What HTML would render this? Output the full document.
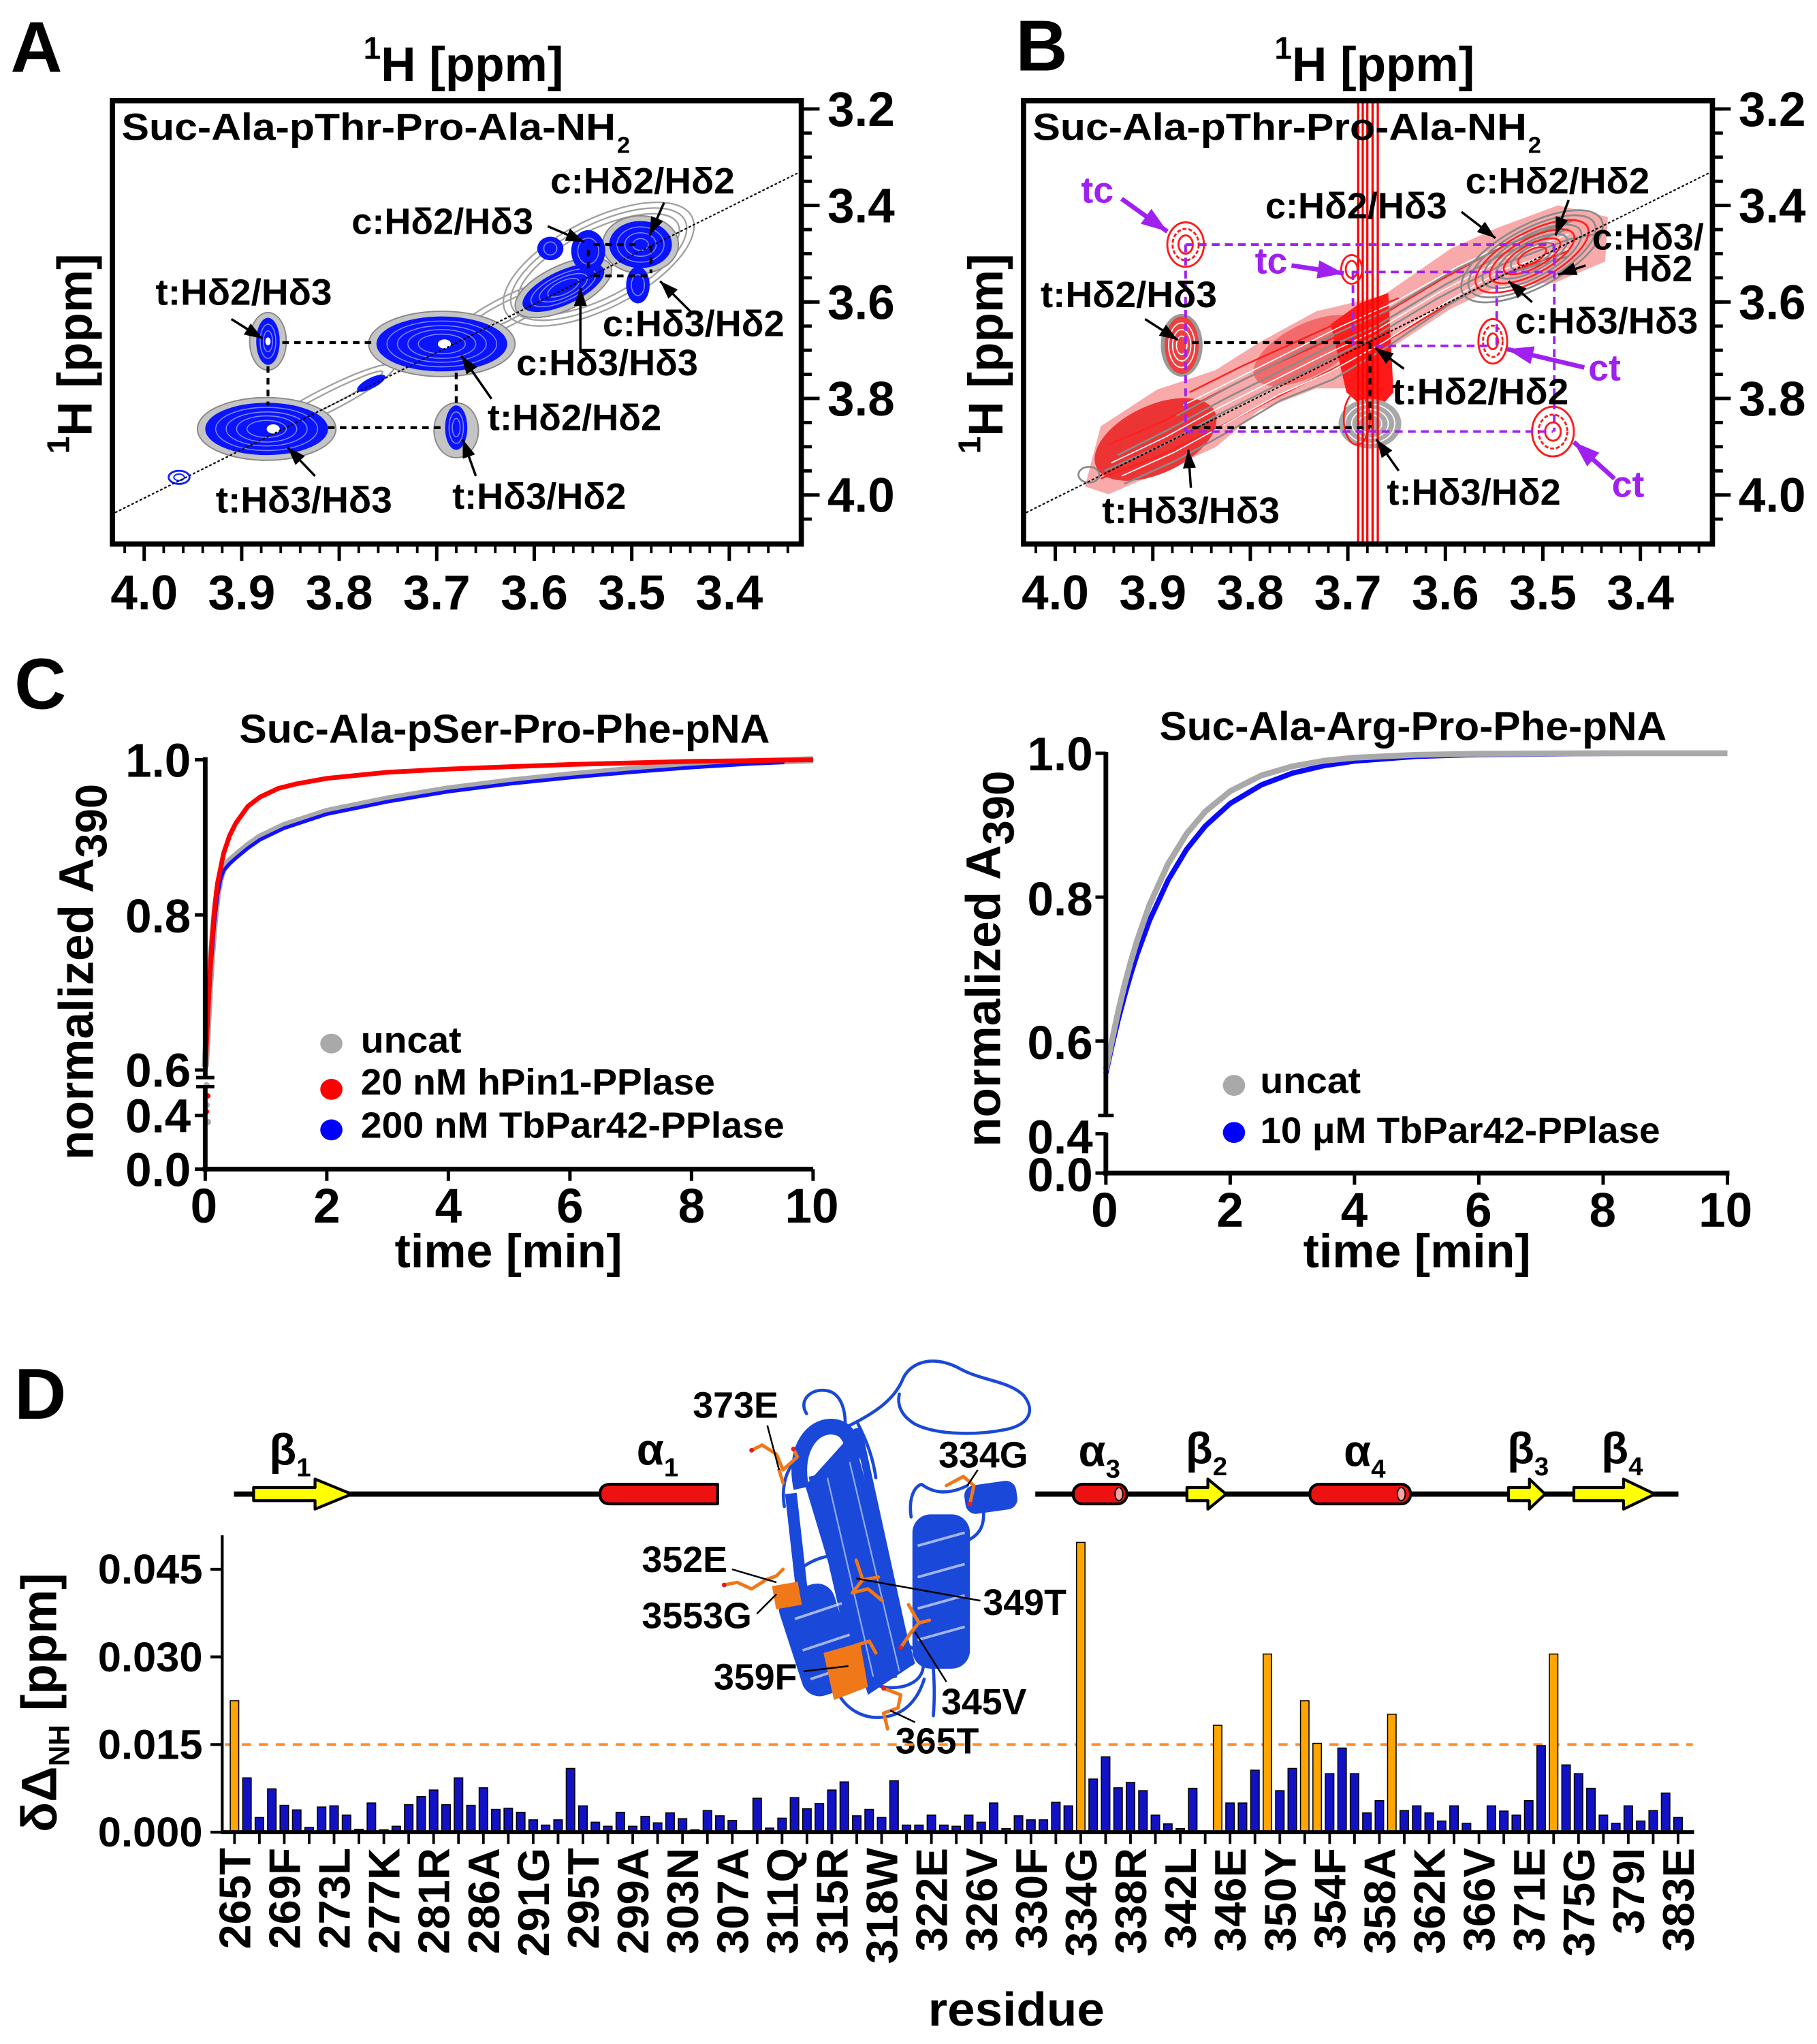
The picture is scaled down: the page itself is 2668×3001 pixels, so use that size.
<!DOCTYPE html>
<html><head><meta charset="utf-8"><title>Figure</title>
<style>
html,body{margin:0;padding:0;background:#fff;width:2668px;height:3001px;overflow:hidden}
svg{display:block}
text{font-family:"Liberation Sans",Arial,"DejaVu Sans",sans-serif;font-weight:bold;fill:#000}
</style></head><body>
<svg xmlns="http://www.w3.org/2000/svg" width="2668" height="3001" viewBox="0 0 1390 1563" preserveAspectRatio="none">
<defs>
<marker id="ak" markerUnits="userSpaceOnUse" markerWidth="14" markerHeight="10" refX="14" refY="5" orient="auto"><path d="M0,0 L14,5 L0,10 Z" fill="#000"/></marker>
<marker id="ap" markerUnits="userSpaceOnUse" markerWidth="20" markerHeight="14" refX="20" refY="7" orient="auto"><path d="M0,0 L20,7 L0,14 Z" fill="#a020f0"/></marker>
</defs>
<rect width="1390" height="1563" fill="#fff"/>

<!-- ================= PANEL A ================= -->
<text x="8" y="55" font-size="55">A</text>
<text x="278" y="62" font-size="37"><tspan font-size="24" dy="-17">1</tspan><tspan dy="17">H [ppm]</tspan></text>
<text transform="translate(70,347) rotate(-90)" font-size="37"><tspan font-size="24" dy="-17">1</tspan><tspan dy="17">H [ppm]</tspan></text>

<g fill="none" stroke="#a0a0a0" stroke-width="1.2">
 <ellipse cx="250" cy="306" rx="58" ry="9" transform="rotate(-27 250 306)"/>
 <ellipse cx="250" cy="306" rx="48" ry="5" transform="rotate(-27 250 306)"/>
 <ellipse cx="388" cy="238" rx="48" ry="11" transform="rotate(-27 388 238)"/>
 <ellipse cx="388" cy="238" rx="38" ry="7" transform="rotate(-27 388 238)"/>
 <ellipse cx="458" cy="202" rx="80" ry="34" transform="rotate(-27 458 202)"/>
 <ellipse cx="458" cy="202" rx="74" ry="30" transform="rotate(-27 458 202)"/>
 <ellipse cx="458" cy="202" rx="68" ry="26" transform="rotate(-27 458 202)"/>
</g>
<ellipse cx="137" cy="365" rx="8" ry="5" fill="none" stroke="#1020ff" stroke-width="1.5"/>
<ellipse cx="137" cy="365" rx="4" ry="2.5" fill="none" stroke="#1020ff" stroke-width="1"/>
<ellipse cx="284" cy="293" rx="12" ry="4" fill="#0a14ff" transform="rotate(-27 284 293)"/>

<g transform="translate(204,328)">
 <ellipse rx="53" ry="24" fill="#c4c4c4" stroke="#888" stroke-width="1"/>
 <ellipse rx="47" ry="20" fill="#0a14ff"/>
 <g fill="none" stroke="#7f86ff" stroke-width="0.8"><ellipse rx="39" ry="16.5"/><ellipse rx="31" ry="13"/><ellipse rx="23" ry="10"/><ellipse rx="15" ry="6.5"/></g>
 <ellipse cx="5" rx="5" ry="3.5" fill="#fff"/>
</g>
<g transform="translate(338,263)">
 <ellipse rx="56" ry="25" fill="#c4c4c4" stroke="#888" stroke-width="1"/>
 <ellipse rx="50" ry="21" fill="#0a14ff"/>
 <g fill="none" stroke="#7f86ff" stroke-width="0.8"><ellipse rx="42" ry="17.5"/><ellipse rx="34" ry="14"/><ellipse rx="26" ry="11"/><ellipse rx="18" ry="7.5"/></g>
 <ellipse cx="2" rx="5" ry="3.5" fill="#fff"/>
</g>
<g transform="translate(205,261)">
 <ellipse rx="14" ry="22" fill="#c4c4c4" stroke="#888" stroke-width="1"/>
 <ellipse rx="9" ry="18" fill="#0a14ff"/>
 <g fill="none" stroke="#7f86ff" stroke-width="0.8"><ellipse rx="6" ry="13"/><ellipse rx="3.5" ry="8"/></g>
 <ellipse rx="2" ry="3" fill="#fff"/>
</g>
<g transform="translate(349,327)">
 <ellipse cy="2" rx="17" ry="21" fill="#c4c4c4" stroke="#888" stroke-width="1"/>
 <ellipse rx="8.5" ry="17" fill="#0a14ff"/>
 <g fill="none" stroke="#7f86ff" stroke-width="0.8"><ellipse rx="5.5" ry="12"/><ellipse rx="3" ry="7"/></g>
</g>
<g transform="translate(431,220) rotate(-25)">
 <ellipse rx="40" ry="17" fill="#c4c4c4" stroke="#888" stroke-width="1"/>
 <ellipse rx="34" ry="13" fill="#0a14ff"/>
 <g fill="none" stroke="#7f86ff" stroke-width="0.8"><ellipse rx="27" ry="10"/><ellipse rx="20" ry="7.5"/><ellipse rx="13" ry="5"/></g>
</g>
<g transform="translate(490,187)">
 <ellipse rx="29" ry="22" fill="#c4c4c4" stroke="#888" stroke-width="1"/>
 <ellipse rx="24" ry="18" fill="#0a14ff"/>
 <g fill="none" stroke="#7f86ff" stroke-width="0.8"><ellipse rx="18" ry="13.5"/><ellipse rx="12" ry="9"/><ellipse rx="6" ry="4.5"/></g>
</g>
<ellipse cx="450" cy="192" rx="13" ry="16" fill="#0a14ff"/>
<ellipse cx="450" cy="192" rx="8" ry="10" fill="none" stroke="#7f86ff" stroke-width="0.8"/>
<ellipse cx="421" cy="190" rx="10" ry="9" fill="#0a14ff"/>
<ellipse cx="421" cy="190" rx="5" ry="5" fill="none" stroke="#7f86ff" stroke-width="0.8"/>
<ellipse cx="488" cy="218" rx="9" ry="14" fill="#0a14ff"/>
<ellipse cx="488" cy="218" rx="5" ry="8" fill="none" stroke="#7f86ff" stroke-width="0.8"/>

<line x1="88" y1="392" x2="613" y2="131" stroke="#000" stroke-width="1.1" stroke-dasharray="2 1.5"/>
<g stroke="#000" stroke-width="2.2" stroke-dasharray="5 4" fill="none">
 <path d="M216 262 H288"/><path d="M251 327 H340"/><path d="M205 280 V310"/><path d="M349 285 V311"/>
 <path d="M454 187 H490"/><path d="M454 211 H498"/><path d="M450 191 V209"/><path d="M498 188 V209"/>
</g>
<g stroke="#000" stroke-width="1.8" marker-end="url(#ak)">
 <line x1="508" y1="155" x2="497" y2="180"/>
 <line x1="419" y1="173" x2="447" y2="185"/>
 <line x1="177" y1="244" x2="201" y2="259"/>
 <line x1="530" y1="240" x2="505" y2="215"/>
 <line x1="444" y1="270" x2="444" y2="220"/>
 <line x1="376" y1="305" x2="353" y2="272"/>
 <line x1="241" y1="364" x2="220" y2="342"/>
 <line x1="364" y1="364" x2="354" y2="336"/>
</g>
<g font-size="28">
 <text x="421" y="148" textLength="141" lengthAdjust="spacingAndGlyphs">c:Hδ2/Hδ2</text>
 <text x="269" y="179" textLength="139" lengthAdjust="spacingAndGlyphs">c:Hδ2/Hδ3</text>
 <text x="119" y="233" textLength="135" lengthAdjust="spacingAndGlyphs">t:Hδ2/Hδ3</text>
 <text x="461" y="257" textLength="139" lengthAdjust="spacingAndGlyphs">c:Hδ3/Hδ2</text>
 <text x="395" y="287" textLength="139" lengthAdjust="spacingAndGlyphs">c:Hδ3/Hδ3</text>
 <text x="373" y="329" textLength="133" lengthAdjust="spacingAndGlyphs">t:Hδ2/Hδ2</text>
 <text x="165" y="392" textLength="135" lengthAdjust="spacingAndGlyphs">t:Hδ3/Hδ3</text>
 <text x="346" y="389" textLength="133" lengthAdjust="spacingAndGlyphs">t:Hδ3/Hδ2</text>
</g>
<text x="93" y="107" font-size="29" textLength="378" lengthAdjust="spacingAndGlyphs">Suc-Ala-pThr-Pro-Ala-NH</text>
<text x="472" y="117" font-size="18">2</text>
<rect x="86" y="77" width="527" height="339" fill="none" stroke="#000" stroke-width="4"/>
<line x1="617" y1="82.05" x2="617" y2="399" stroke="#000" stroke-width="8" stroke-dasharray="2.5 15.95"/>
<path d="M613 83.3h14M613 157.1h14M613 230.9h14M613 304.7h14M613 378.5h14" stroke="#000" stroke-width="2.6"/>
<g font-size="37"><text x="633" y="96.3">3.2</text><text x="633" y="170.1">3.4</text><text x="633" y="243.9">3.6</text><text x="633" y="317.7">3.8</text><text x="633" y="391.5">4.0</text></g>
<line x1="94.4" y1="419.5" x2="604" y2="419.5" stroke="#000" stroke-width="7" stroke-dasharray="2 12.92"/>
<path d="M110.3 416v13M184.9 416v13M259.5 416v13M334.1 416v13M408.7 416v13M483.3 416v13M557.9 416v13" stroke="#000" stroke-width="2.6"/>
<g font-size="37" text-anchor="middle"><text x="110.3" y="466">4.0</text><text x="184.9" y="466">3.9</text><text x="259.5" y="466">3.8</text><text x="334.1" y="466">3.7</text><text x="408.7" y="466">3.6</text><text x="483.3" y="466">3.5</text><text x="557.9" y="466">3.4</text></g>

<!-- ================= PANEL B ================= -->
<text x="777" y="54" font-size="55">B</text>
<text x="975" y="62" font-size="37"><tspan font-size="24" dy="-17">1</tspan><tspan dy="17">H [ppm]</tspan></text>
<text transform="translate(767,347) rotate(-90)" font-size="37"><tspan font-size="24" dy="-17">1</tspan><tspan dy="17">H [ppm]</tspan></text>

<polygon points="830,372 848,378 885,362 930,342 963,314 1007,297 1030,297 1058,270 1110,236 1146,219 1190,216 1228,200 1230,166 1192,157 1146,174 1110,190 1058,226 1007,238 963,262 930,283 885,298 842,326" fill="#f8aaaa"/>
<ellipse cx="884" cy="336" rx="50" ry="26" fill="#ec3434" transform="rotate(-25 884 336)"/>
<ellipse cx="1000" cy="268" rx="45" ry="20" fill="#f26a6a" transform="rotate(-27 1000 268)"/>
<path d="M1018 248 L1040 232 L1062 224 L1066 300 L1050 318 L1030 300 Z" fill="#ff1a1a"/>
<g fill="none" stroke="#ff2020" stroke-width="1.3">
 <polyline points="842,366 888,348 930,328 972,306 1012,286 1052,266 1102,236 1150,210 1200,192"/>
 <polyline points="848,340 890,322 932,300 972,280 1012,262 1052,244 1102,214 1150,188 1200,170"/>
 <polyline points="910,300 950,280 990,262 1030,244 1070,228"/>
</g>
<g fill="none" stroke="#8a8a8a" stroke-width="1.4">
 <polyline points="845,360 890,340 930,318 970,298 1010,278 1050,258 1100,228 1150,202 1200,183 1225,178"/>
 <polyline points="855,348 895,328 935,306 975,286 1015,266 1055,248 1105,218 1150,194 1200,175"/>
 <polyline points="860,370 900,352 940,330 980,306 1020,290 1060,266 1110,232 1150,210 1200,196"/>
 <polyline points="900,318 940,296 980,276 1020,256 1060,238 1110,208 1160,184 1205,168"/>
</g>
<g fill="none" stroke="#fff" stroke-width="0.9">
 <polyline points="850,354 892,334 932,312 972,292 1012,272 1052,253 1102,223 1150,198 1200,179"/>
 <polyline points="858,364 898,346 938,324 978,302 1018,284 1058,262 1108,230 1150,206 1200,190"/>
 <polyline points="905,310 945,290 985,270 1025,250 1065,232 1115,204 1165,180"/>
</g>
<g transform="translate(1172,196) rotate(-28)" fill="none" stroke-width="1.4">
 <ellipse rx="60" ry="24" stroke="#8a8a8a"/><ellipse rx="54" ry="21" stroke="#8a8a8a"/><ellipse rx="48" ry="18.5" stroke="#ff2020"/>
 <ellipse rx="42" ry="16" stroke="#8a8a8a"/><ellipse rx="36" ry="13.5" stroke="#ff2020"/><ellipse rx="30" ry="11" stroke="#8a8a8a"/>
 <ellipse rx="24" ry="9" stroke="#ff2020"/><ellipse rx="18" ry="7" stroke="#8a8a8a"/><ellipse rx="12" ry="5" stroke="#ff2020"/>
</g>
<g transform="translate(904,264)">
 <ellipse rx="16" ry="24" fill="#9a9a9a"/>
 <ellipse rx="13" ry="22" fill="#ef4040"/>
 <g fill="none" stroke="#fff" stroke-width="0.9"><ellipse rx="10" ry="17"/><ellipse rx="7" ry="12"/><ellipse rx="4" ry="7"/></g>
</g>
<g transform="translate(1048,324)">
 <ellipse rx="24" ry="19" fill="#a8a8a8"/>
 <g fill="none" stroke="#fff" stroke-width="0.9"><ellipse rx="19" ry="15"/><ellipse rx="14" ry="11"/><ellipse rx="9" ry="7"/></g>
 <ellipse cx="-10" cy="-4" rx="10" ry="20" fill="none" stroke="#ff2020" stroke-width="1.4"/>
</g>
<ellipse cx="833" cy="363" rx="8" ry="6" fill="none" stroke="#888" stroke-width="1.4"/>
<g stroke="#ff0000" stroke-width="1.7" fill="none">
 <path d="M1039 77 V418"/><path d="M1042.5 77 V418"/><path d="M1046 77 V418"/><path d="M1050 77 V418"/><path d="M1054 77 V418"/>
</g>
<g fill="none" stroke="#ff1a1a" stroke-width="1.5">
 <ellipse cx="907" cy="187" rx="14" ry="17"/><ellipse cx="907" cy="187" rx="10" ry="12" stroke-dasharray="3 1.5"/><ellipse cx="907" cy="187" rx="5.5" ry="7"/>
 <ellipse cx="1034" cy="206" rx="8" ry="11"/><ellipse cx="1034" cy="206" rx="4.5" ry="6.5"/>
 <ellipse cx="1142" cy="261" rx="11" ry="17"/><ellipse cx="1142" cy="261" rx="7.5" ry="12" stroke-dasharray="3 1.5"/><ellipse cx="1142" cy="261" rx="4" ry="6"/>
 <ellipse cx="1188" cy="330" rx="16" ry="19"/><ellipse cx="1188" cy="330" rx="11" ry="13" stroke-dasharray="3 1.5"/><ellipse cx="1188" cy="330" rx="6" ry="7"/>
</g>
<line x1="785" y1="392" x2="1310" y2="131" stroke="#000" stroke-width="1.1" stroke-dasharray="2 1.5"/>
<g stroke="#a020f0" stroke-width="2" stroke-dasharray="6 4" fill="none">
 <path d="M907 187 H1189"/><path d="M1034 208 H1189"/><path d="M1052 264.5 H1142"/><path d="M907 330 H1188"/>
 <path d="M907 187 V330"/><path d="M1035 208 V264"/><path d="M1145 208 V264"/><path d="M1189 187 V330"/>
</g>
<g stroke="#000" stroke-width="2.2" stroke-dasharray="5 4" fill="none">
 <path d="M912 262 H1048"/><path d="M912 327 H1048"/><path d="M1048 262 V327"/>
</g>
<g stroke="#000" stroke-width="1.8" marker-end="url(#ak)">
 <line x1="1200" y1="153" x2="1190" y2="180"/>
 <line x1="1118" y1="162" x2="1144" y2="182"/>
 <line x1="1213" y1="203" x2="1192" y2="210"/>
 <line x1="1172" y1="231" x2="1154" y2="215"/>
 <line x1="876" y1="244" x2="901" y2="260"/>
 <line x1="1074" y1="282" x2="1052" y2="266"/>
 <line x1="1070" y1="360" x2="1053" y2="336"/>
 <line x1="911" y1="373" x2="909" y2="344"/>
</g>
<g stroke="#a020f0" stroke-width="3.5" marker-end="url(#ap)">
 <line x1="858" y1="152" x2="893" y2="177"/>
 <line x1="988" y1="203" x2="1028" y2="209"/>
 <line x1="1212" y1="281" x2="1153" y2="267"/>
 <line x1="1235" y1="366" x2="1204" y2="338"/>
</g>
<g font-size="28">
 <text x="827" y="155" style="fill:#a020f0">tc</text>
 <text x="960" y="209" style="fill:#a020f0">tc</text>
 <text x="1215" y="291" style="fill:#a020f0">ct</text>
 <text x="1233" y="380" style="fill:#a020f0">ct</text>
</g>
<g font-size="28">
 <text x="1121" y="148" textLength="141" lengthAdjust="spacingAndGlyphs">c:Hδ2/Hδ2</text>
 <text x="968" y="167" textLength="139" lengthAdjust="spacingAndGlyphs">c:Hδ2/Hδ3</text>
 <text x="1218" y="191">c:Hδ3/</text>
 <text x="1242" y="215">Hδ2</text>
 <text x="796" y="235" textLength="135" lengthAdjust="spacingAndGlyphs">t:Hδ2/Hδ3</text>
 <text x="1159" y="255" textLength="140" lengthAdjust="spacingAndGlyphs">c:Hδ3/Hδ3</text>
 <text x="1065" y="309" textLength="135" lengthAdjust="spacingAndGlyphs">t:Hδ2/Hδ2</text>
 <text x="1061" y="386" textLength="133" lengthAdjust="spacingAndGlyphs">t:Hδ3/Hδ2</text>
 <text x="843" y="400" textLength="136" lengthAdjust="spacingAndGlyphs">t:Hδ3/Hδ3</text>
</g>
<text x="790" y="107" font-size="29" textLength="378" lengthAdjust="spacingAndGlyphs">Suc-Ala-pThr-Pro-Ala-NH</text>
<text x="1169" y="117" font-size="18">2</text>
<rect x="783" y="77" width="527" height="339" fill="none" stroke="#000" stroke-width="4"/>
<line x1="1314" y1="82.05" x2="1314" y2="399" stroke="#000" stroke-width="8" stroke-dasharray="2.5 15.95"/>
<path d="M1310 83.3h14M1310 157.1h14M1310 230.9h14M1310 304.7h14M1310 378.5h14" stroke="#000" stroke-width="2.6"/>
<g font-size="37"><text x="1330" y="96.3">3.2</text><text x="1330" y="170.1">3.4</text><text x="1330" y="243.9">3.6</text><text x="1330" y="317.7">3.8</text><text x="1330" y="391.5">4.0</text></g>
<line x1="791.4" y1="419.5" x2="1301" y2="419.5" stroke="#000" stroke-width="7" stroke-dasharray="2 12.92"/>
<path d="M807.3 416v13M881.9 416v13M956.5 416v13M1031.1 416v13M1105.7 416v13M1180.3 416v13M1254.9 416v13" stroke="#000" stroke-width="2.6"/>
<g font-size="37" text-anchor="middle"><text x="807.3" y="466">4.0</text><text x="881.9" y="466">3.9</text><text x="956.5" y="466">3.8</text><text x="1031.1" y="466">3.7</text><text x="1105.7" y="466">3.6</text><text x="1180.3" y="466">3.5</text><text x="1254.9" y="466">3.4</text></g>

<!-- ================= PANEL C (left) ================= -->
<text x="11" y="542" font-size="55">C</text>
<text x="183" y="568" font-size="31" textLength="406" lengthAdjust="spacingAndGlyphs">Suc-Ala-pSer-Pro-Phe-pNA</text>
<text transform="translate(71,887) rotate(-90)" font-size="37">normalized A<tspan font-size="34" dy="10.5">390</tspan></text>
<polyline fill="none" stroke="#a9a9a9" stroke-width="5.5" stroke-linejoin="round" points="157,816 158.4,792.5 159.8,762.8 161.65,733.2 164,703.5 166.3,682.8 168.6,670.9 171,663.8 175.6,658.5 180.3,654.3 189.6,646.6 198.9,640.1 217.5,631.2 250,620.5 296.5,611 343,603.3 389.5,597.4 436,592.6 482.5,588.5 529,584.9 575.5,582.5 622,581"/>
<polyline fill="none" stroke="#1010ff" stroke-width="2.8" stroke-linejoin="round" points="157,818.2 158.4,794.5 159.8,764.8 161.65,735.2 164,705.5 166.3,684.8 168.6,672.9 171,665.8 175.6,660.5 180.3,656.3 189.6,648.6 198.9,642.1 217.5,633.2 250,622.5 296.5,613 343,605.3 389.5,599.4 436,594.6 482.5,590.5 529,586.9 575.5,584 600,583"/>
<polyline fill="none" stroke="#ff0000" stroke-width="3.6" stroke-linejoin="round" points="157,818.2 158.4,788.6 159.8,758.9 161.65,726.3 164,696.6 166.3,675.9 171,652.8 175.6,639.1 180.3,629.6 189.6,616.6 198.9,609.5 212.8,602.9 226.75,599.4 250,595.2 296.5,590.5 343,588.1 389.5,586.3 436,584.6 529,582.2 622,581"/>
<g fill="#a9a9a9"><circle cx="158" cy="830" r="2.5"/><circle cx="158" cy="845" r="2.5"/><circle cx="159" cy="858" r="2.5"/></g>
<g fill="#ff0000"><circle cx="159" cy="838" r="2"/><circle cx="158" cy="850" r="2"/></g>
<g stroke="#000" stroke-width="3.6" fill="none">
 <path d="M157 579 V824"/><path d="M157 831 V896"/><path d="M155 894 H622"/>
</g>
<g stroke="#000" stroke-width="2.6">
 <path d="M149 581 H157M149 699.6 H157M149 818.2 H157M149 853 H157M149 894 H157"/>
 <path d="M150 824 H164M150 831 H164"/>
 <path d="M157 894 v9M250 894 v9M343 894 v9M436 894 v9M529 894 v9M622 894 v9"/>
</g>
<g font-size="36" text-anchor="end"><text x="146" y="594">1.0</text><text x="146" y="713">0.8</text><text x="146" y="831">0.6</text><text x="146" y="866">0.4</text><text x="146" y="907">0.0</text></g>
<g font-size="37" text-anchor="middle"><text x="156" y="935">0</text><text x="250" y="935">2</text><text x="343" y="935">4</text><text x="436" y="935">6</text><text x="529" y="935">8</text><text x="621" y="935">10</text></g>
<text x="302" y="969" font-size="36" textLength="174" lengthAdjust="spacingAndGlyphs">time [min]</text>
<ellipse cx="253.5" cy="798" rx="8.5" ry="7.5" fill="#a9a9a9"/>
<ellipse cx="253.5" cy="833" rx="8.5" ry="8" fill="#ff0000"/>
<ellipse cx="253.5" cy="864" rx="8.5" ry="8" fill="#0000ff"/>
<g font-size="28">
 <text x="276" y="805" textLength="77" lengthAdjust="spacingAndGlyphs">uncat</text>
 <text x="276" y="837" textLength="271" lengthAdjust="spacingAndGlyphs">20 nM hPin1-PPlase</text>
 <text x="276" y="870" textLength="324" lengthAdjust="spacingAndGlyphs">200 nM TbPar42-PPlase</text>
</g>

<!-- ================= PANEL C (right) ================= -->
<text x="887" y="566" font-size="31" textLength="388" lengthAdjust="spacingAndGlyphs">Suc-Ala-Arg-Pro-Phe-pNA</text>
<text transform="translate(765,877) rotate(-90)" font-size="37">normalized A<tspan font-size="34" dy="10.5">390</tspan></text>
<polyline fill="none" stroke="#0a0aff" stroke-width="4" stroke-linejoin="round" points="846,820.8 850.8,799.1 855.5,779.4 860.3,761.4 865,745 869.8,730 879.3,704 893.6,673 907.8,649.4 922.1,631.6 941.1,614.4 964.9,600.2 988.7,591.2 1012.4,585.6 1036.2,582 1083.8,578.4 1131.3,577 1226.4,576.2 1270,576"/>
<polyline fill="none" stroke="#a9a9a9" stroke-width="4.5" stroke-linejoin="round" points="846,818 850.8,795 855.5,773 860.3,753 865,735.5 869.8,719.5 879.3,692 893.6,660.5 907.8,637.5 922.1,620.5 941.1,605 964.9,593 988.7,586 1012.4,581.8 1036.2,579.4 1083.8,577.2 1131.3,576.4 1226.4,576 1321.5,576"/>
<g stroke="#000" stroke-width="3.6" fill="none">
 <path d="M846 575 V853"/><path d="M846 866 V899"/><path d="M844 897 H1323"/>
</g>
<g stroke="#000" stroke-width="2.6">
 <path d="M838 576 H846M838 686 H846M838 796 H846M838 867 H846M838 897 H846"/>
 <path d="M840 853 H852"/>
 <path d="M846 897 v9M941.1 897 v9M1036.2 897 v9M1131.3 897 v9M1226.4 897 v9M1321.5 897 v9"/>
</g>
<g font-size="36" text-anchor="end"><text x="836" y="589">1.0</text><text x="836" y="700">0.8</text><text x="836" y="810">0.6</text><text x="836" y="882">0.4</text><text x="836" y="911">0.0</text></g>
<g font-size="37" text-anchor="middle"><text x="845" y="938">0</text><text x="941" y="938">2</text><text x="1036" y="938">4</text><text x="1131" y="938">6</text><text x="1226" y="938">8</text><text x="1320" y="938">10</text></g>
<text x="997" y="969" font-size="36" textLength="174" lengthAdjust="spacingAndGlyphs">time [min]</text>
<ellipse cx="944" cy="830" rx="8.5" ry="8" fill="#a9a9a9"/>
<ellipse cx="944" cy="866" rx="8.5" ry="8" fill="#0000ff"/>
<g font-size="28">
 <text x="964" y="836" textLength="77" lengthAdjust="spacingAndGlyphs">uncat</text>
 <text x="964" y="874" textLength="306" lengthAdjust="spacingAndGlyphs">10 μM TbPar42-PPlase</text>
</g>

<!-- ================= PANEL D ================= -->
<text x="11" y="1085" font-size="55">D</text>
<g stroke="#000" stroke-width="4"><path d="M179 1142.5 H549"/><path d="M792 1142.5 H1284"/></g>
<g stroke="#000" stroke-width="2.2" stroke-linejoin="round">
 <path d="M194 1137.5 H241 V1131 L269 1142.5 L241 1154 V1147.5 H194 Z" fill="#ffff00"/>
 <path d="M908 1137.5 H924 V1131 L938 1142.5 L924 1154 V1147.5 H908 Z" fill="#ffff00"/>
 <path d="M1154 1137.5 H1170 V1131 L1182 1142.5 L1170 1154 V1147.5 H1154 Z" fill="#ffff00"/>
 <path d="M1204 1137.5 H1242 V1131 L1266 1142.5 L1242 1154 V1147.5 H1204 Z" fill="#ffff00"/>
 <path d="M549 1135 H467 Q459 1135 459 1142.5 Q459 1150 467 1150 H549 Z" fill="#ee1111"/>
 <rect x="821" y="1135" width="41" height="15" rx="7" fill="#ee1111"/>
 <rect x="1002" y="1135" width="77" height="15" rx="7" fill="#ee1111"/>
</g>
<ellipse cx="856" cy="1142.5" rx="3" ry="5" fill="#f5a3a3" stroke="#000" stroke-width="1"/>
<ellipse cx="1072" cy="1142.5" rx="3" ry="5" fill="#f5a3a3" stroke="#000" stroke-width="1"/>
<g font-size="34">
 <text x="206" y="1120">β<tspan font-size="20" dy="9">1</tspan></text>
 <text x="487" y="1120">α<tspan font-size="20" dy="9">1</tspan></text>
 <text x="825" y="1121">α<tspan font-size="20" dy="9">3</tspan></text>
 <text x="907" y="1119">β<tspan font-size="20" dy="9">2</tspan></text>
 <text x="1028" y="1121">α<tspan font-size="20" dy="9">4</tspan></text>
 <text x="1153" y="1119">β<tspan font-size="20" dy="9">3</tspan></text>
 <text x="1225" y="1119">β<tspan font-size="20" dy="9">4</tspan></text>
</g>

<!-- protein structure -->
<g fill="none" stroke="#1a48d8" stroke-width="2.4" stroke-linecap="round" stroke-linejoin="round">
 <path d="M646 1092 C662 1084 682 1074 690 1056 C696 1040 716 1036 735 1047 C752 1056 772 1056 783 1067 C792 1078 788 1089 770 1093 C745 1098 716 1097 700 1089 C690 1083 686 1075 688 1066"/>
 <path d="M617 1081 C610 1070 622 1060 635 1064 C645 1068 648 1082 646 1098"/>
 <path d="M656 1088 C664 1104 668 1116 670 1130"/>
 <path d="M697 1160 C695 1146 699 1137 705 1135 C713 1141 724 1144 740 1136"/>
 <path d="M752 1152 C754 1166 750 1176 734 1180"/>
 <path d="M640 1292 C646 1307 661 1315 676 1313 C692 1311 702 1300 707 1284"/>
 <path d="M714 1276 C715 1290 715 1300 714 1312"/>
 <path d="M655 1262 C672 1250 700 1254 706 1270 C709 1286 690 1294 672 1289"/>
 <path d="M612 1200 C628 1187 650 1186 668 1194"/>
 <path d="M600 1152 C598 1140 600 1128 606 1120"/>
</g>
<polygon points="616,1136 652,1096 700,1272 664,1296" fill="#1a48d8"/>
<g fill="none" stroke="#1a48d8">
 <path d="M613 1138 C606 1106 624 1086 642 1092 C656 1098 654 1120 645 1132" stroke-width="12"/>
 <path d="M624 1128 L661 1290" stroke-width="11"/>
 <path d="M641 1122 L681 1284" stroke-width="11"/>
 <path d="M656 1092 L696 1274" stroke-width="6"/>
 <path d="M605 1142 L614 1222" stroke-width="9"/>
</g>
<g stroke="#8fa8f0" stroke-width="1.2" fill="none">
 <path d="M633 1130 L668 1282"/><path d="M650 1118 L688 1278"/>
</g>
<rect x="698" y="1158" width="44" height="118" rx="14" fill="#1a48d8"/>
<rect x="738" y="1134" width="40" height="22" rx="8" fill="#1a48d8" transform="rotate(-8 758 1145)"/>
<rect x="604" y="1212" width="44" height="84" rx="14" fill="#1a48d8" transform="rotate(-18 626 1254)"/>
<g stroke="#fff" stroke-width="2" fill="none" opacity=".6">
 <path d="M702 1182 L738 1172 M702 1206 L738 1196 M702 1230 L738 1220 M702 1254 L738 1244"/>
 <path d="M608 1238 L644 1226 M614 1262 L650 1250 M620 1284 L650 1274"/>
</g>
<g fill="none" stroke="#f07818" stroke-width="2.6" stroke-linecap="round" stroke-linejoin="round">
 <path d="M575 1109 L583 1105 L594 1112 L599 1124 L610 1114 L607 1108 M596 1124 L599 1134"/>
 <path d="M724 1136 L737 1129 L745 1136 L742 1150"/>
 <path d="M554 1212 L564 1210 L575 1215 L586 1208 L594 1205 L599 1200"/>
 <path d="M655 1193 L660 1208 L652 1218 L664 1215 L675 1224 M660 1208 L672 1206"/>
 <path d="M695 1227 L703 1241 L711 1239 M703 1241 L697 1248 L689 1260"/>
 <path d="M676 1291 L689 1296 L687 1306 L676 1310 L679 1322"/>
 <path d="M655 1258 L665 1255 L670 1264"/>
</g>
<rect x="592" y="1211" width="20" height="18" fill="#f07818" transform="rotate(-10 602 1220)"/>
<path d="M630 1264 L658 1256 L664 1290 L638 1300 Z" fill="#f07818"/>
<g fill="#e02020"><circle cx="575" cy="1109" r="1.8"/><circle cx="607" cy="1108" r="1.8"/><circle cx="554" cy="1212" r="1.8"/><circle cx="742" cy="1150" r="1.8"/><circle cx="689" cy="1260" r="1.8"/><circle cx="676" cy="1291" r="1.8"/></g>
<g stroke="#000" stroke-width="1.3">
 <path d="M587 1090 L596 1124"/><path d="M748 1124 L740 1136"/><path d="M560 1200 L594 1210"/><path d="M579 1234 L594 1219"/>
 <path d="M750 1224 L655 1207"/><path d="M615 1278 L649 1274"/><path d="M724 1286 L700 1248"/><path d="M700 1317 L681 1308"/>
</g>
<g font-size="28">
 <text x="530" y="1084">373E</text><text x="718" y="1122">334G</text><text x="491" y="1202">352E</text><text x="491" y="1245">3553G</text>
 <text x="752" y="1235">349T</text><text x="546" y="1292">359F</text><text x="720" y="1311">345V</text><text x="685" y="1341">365T</text>
</g>

<!-- bar chart -->
<line x1="172" y1="1334" x2="1295" y2="1334" stroke="#ff8a24" stroke-width="2" stroke-dasharray="7 6"/>
<g fill="#1212c4" stroke="#000" stroke-width="0.8">
<rect x="185.67" y="1359.5" width="6.5" height="41.5"/><rect x="195.19" y="1389.8" width="6.5" height="11.2"/><rect x="204.71" y="1367.9" width="6.5" height="33.1"/><rect x="214.23" y="1380.5" width="6.5" height="20.5"/><rect x="223.75" y="1384" width="6.5" height="17"/><rect x="233.27" y="1397.4" width="6.5" height="3.6"/><rect x="242.79" y="1381.8" width="6.5" height="19.2"/><rect x="252.31" y="1380.9" width="6.5" height="20.1"/><rect x="261.83" y="1388" width="6.5" height="13"/><rect x="271.35" y="1398.8" width="6.5" height="2.2"/>
<rect x="280.87" y="1378.7" width="6.5" height="22.3"/><rect x="290.39" y="1399.2" width="6.5" height="1.8"/><rect x="299.91" y="1396.5" width="6.5" height="4.5"/><rect x="309.43" y="1380" width="6.5" height="21"/><rect x="318.95" y="1373.8" width="6.5" height="27.2"/><rect x="328.47" y="1368.8" width="6.5" height="32.2"/><rect x="337.99" y="1380" width="6.5" height="21"/><rect x="347.51" y="1359.5" width="6.5" height="41.5"/><rect x="357.03" y="1380.5" width="6.5" height="20.5"/><rect x="366.55" y="1367.1" width="6.5" height="33.9"/>
<rect x="376.07" y="1383.6" width="6.5" height="17.4"/><rect x="385.59" y="1382.7" width="6.5" height="18.3"/><rect x="395.11" y="1385.8" width="6.5" height="15.2"/><rect x="404.63" y="1391.6" width="6.5" height="9.4"/><rect x="414.15" y="1395.6" width="6.5" height="5.4"/><rect x="423.67" y="1391.6" width="6.5" height="9.4"/><rect x="433.19" y="1352.3" width="6.5" height="48.7"/><rect x="442.71" y="1380.9" width="6.5" height="20.1"/><rect x="452.23" y="1393.4" width="6.5" height="7.6"/><rect x="461.75" y="1396.5" width="6.5" height="4.5"/>
<rect x="471.27" y="1385.8" width="6.5" height="15.2"/><rect x="480.79" y="1396.5" width="6.5" height="4.5"/><rect x="490.31" y="1388.9" width="6.5" height="12.1"/><rect x="499.83" y="1393.9" width="6.5" height="7.1"/><rect x="509.35" y="1386.3" width="6.5" height="14.7"/><rect x="518.87" y="1390.7" width="6.5" height="10.3"/><rect x="528.39" y="1399.2" width="6.5" height="1.8"/><rect x="537.91" y="1384.5" width="6.5" height="16.5"/><rect x="547.43" y="1388.5" width="6.5" height="12.5"/><rect x="556.95" y="1392.1" width="6.5" height="8.9"/>
<rect x="575.99" y="1375.1" width="6.5" height="25.9"/><rect x="585.51" y="1397.9" width="6.5" height="3.1"/><rect x="595.03" y="1390.3" width="6.5" height="10.7"/><rect x="604.55" y="1374.6" width="6.5" height="26.4"/><rect x="614.07" y="1383.1" width="6.5" height="17.9"/><rect x="623.59" y="1379.1" width="6.5" height="21.9"/><rect x="633.11" y="1368.8" width="6.5" height="32.2"/><rect x="642.63" y="1362.6" width="6.5" height="38.4"/><rect x="652.15" y="1388.5" width="6.5" height="12.5"/><rect x="661.67" y="1383.6" width="6.5" height="17.4"/>
<rect x="671.19" y="1389.8" width="6.5" height="11.2"/><rect x="680.71" y="1361.7" width="6.5" height="39.3"/><rect x="690.23" y="1395.6" width="6.5" height="5.4"/><rect x="699.75" y="1395.6" width="6.5" height="5.4"/><rect x="709.27" y="1388" width="6.5" height="13"/><rect x="718.79" y="1395.6" width="6.5" height="5.4"/><rect x="728.31" y="1396.5" width="6.5" height="4.5"/><rect x="737.83" y="1388" width="6.5" height="13"/><rect x="747.35" y="1393.4" width="6.5" height="7.6"/><rect x="756.87" y="1378.7" width="6.5" height="22.3"/>
<rect x="766.39" y="1398.3" width="6.5" height="2.7"/><rect x="775.91" y="1388.5" width="6.5" height="12.5"/><rect x="785.43" y="1391.6" width="6.5" height="9.4"/><rect x="794.95" y="1391.6" width="6.5" height="9.4"/><rect x="804.47" y="1378.2" width="6.5" height="22.8"/><rect x="813.99" y="1380.9" width="6.5" height="20.1"/><rect x="833.03" y="1360.4" width="6.5" height="40.6"/><rect x="842.55" y="1343.4" width="6.5" height="57.6"/><rect x="852.07" y="1367.1" width="6.5" height="33.9"/><rect x="861.59" y="1363" width="6.5" height="38"/>
<rect x="871.11" y="1369.3" width="6.5" height="31.7"/><rect x="880.63" y="1388" width="6.5" height="13"/><rect x="890.15" y="1394.7" width="6.5" height="6.3"/><rect x="899.67" y="1398.3" width="6.5" height="2.7"/><rect x="909.19" y="1367.5" width="6.5" height="33.5"/><rect x="937.75" y="1378.7" width="6.5" height="22.3"/><rect x="947.27" y="1378.7" width="6.5" height="22.3"/><rect x="956.79" y="1353.6" width="6.5" height="47.4"/><rect x="975.83" y="1369.3" width="6.5" height="31.7"/><rect x="985.35" y="1352.3" width="6.5" height="48.7"/>
<rect x="1013.91" y="1356.3" width="6.5" height="44.7"/><rect x="1023.43" y="1336.7" width="6.5" height="64.3"/><rect x="1032.95" y="1356.3" width="6.5" height="44.7"/><rect x="1042.47" y="1386.3" width="6.5" height="14.7"/><rect x="1051.99" y="1376.9" width="6.5" height="24.1"/><rect x="1071.03" y="1384.5" width="6.5" height="16.5"/><rect x="1080.55" y="1380.9" width="6.5" height="20.1"/><rect x="1090.07" y="1386.3" width="6.5" height="14.7"/><rect x="1099.59" y="1392.5" width="6.5" height="8.5"/><rect x="1109.11" y="1380.9" width="6.5" height="20.1"/>
<rect x="1118.63" y="1394.3" width="6.5" height="6.7"/><rect x="1137.67" y="1380.9" width="6.5" height="20.1"/><rect x="1147.19" y="1384.9" width="6.5" height="16.1"/><rect x="1156.71" y="1388" width="6.5" height="13"/><rect x="1166.23" y="1376.9" width="6.5" height="24.1"/><rect x="1175.75" y="1334.9" width="6.5" height="66.1"/><rect x="1194.79" y="1349.6" width="6.5" height="51.4"/><rect x="1204.31" y="1356.3" width="6.5" height="44.7"/><rect x="1213.83" y="1367.5" width="6.5" height="33.5"/><rect x="1223.35" y="1388" width="6.5" height="13"/>
<rect x="1232.87" y="1394.3" width="6.5" height="6.7"/><rect x="1242.39" y="1380.9" width="6.5" height="20.1"/><rect x="1251.91" y="1392.5" width="6.5" height="8.5"/><rect x="1261.43" y="1384.5" width="6.5" height="16.5"/><rect x="1270.95" y="1371.1" width="6.5" height="29.9"/><rect x="1280.47" y="1389.8" width="6.5" height="11.2"/>
</g>
<g fill="#ffa500" stroke="#000" stroke-width="0.8">
<rect x="176.15" y="1300.5" width="6.5" height="100.5"/><rect x="823.51" y="1179.4" width="6.5" height="221.6"/><rect x="928.23" y="1319.3" width="6.5" height="81.7"/><rect x="966.31" y="1264.8" width="6.5" height="136.2"/><rect x="994.87" y="1300.5" width="6.5" height="100.5"/><rect x="1004.39" y="1333.1" width="6.5" height="67.9"/><rect x="1061.51" y="1310.8" width="6.5" height="90.2"/><rect x="1185.27" y="1264.8" width="6.5" height="136.2"/>
</g>
<g stroke="#000" fill="none">
 <path d="M170 1174 V1402" stroke-width="2.2"/>
 <path d="M169 1401 H1296" stroke-width="3"/>
 <path d="M161 1401 H170M161 1334 H170M161 1267 H170M161 1200 H170" stroke-width="2.2"/>
</g>
<line x1="178.4" y1="1405.5" x2="1296" y2="1405.5" stroke="#000" stroke-width="9" stroke-dasharray="2 17.04"/>
<g font-size="32" text-anchor="end"><text x="155" y="1412">0.000</text><text x="155" y="1345">0.015</text><text x="155" y="1278">0.030</text><text x="155" y="1211">0.045</text></g>
<text transform="translate(43,1401) rotate(-90)" font-size="38">δΔ<tspan font-size="22" dy="10">NH</tspan><tspan dy="-10"> [ppm]</tspan></text>
<g font-size="34" text-anchor="end">
<text transform="translate(191.4,1413) rotate(-90)">265T</text>
<text transform="translate(229.5,1413) rotate(-90)">269F</text>
<text transform="translate(267.6,1413) rotate(-90)">273L</text>
<text transform="translate(305.6,1413) rotate(-90)">277K</text>
<text transform="translate(343.7,1413) rotate(-90)">281R</text>
<text transform="translate(381.8,1413) rotate(-90)">286A</text>
<text transform="translate(419.9,1413) rotate(-90)">291G</text>
<text transform="translate(458,1413) rotate(-90)">295T</text>
<text transform="translate(496,1413) rotate(-90)">299A</text>
<text transform="translate(534.1,1413) rotate(-90)">303N</text>
<text transform="translate(572.2,1413) rotate(-90)">307A</text>
<text transform="translate(610.3,1413) rotate(-90)">311Q</text>
<text transform="translate(648.4,1413) rotate(-90)">315R</text>
<text transform="translate(686.4,1413) rotate(-90)">318W</text>
<text transform="translate(724.5,1413) rotate(-90)">322E</text>
<text transform="translate(762.6,1413) rotate(-90)">326V</text>
<text transform="translate(800.7,1413) rotate(-90)">330F</text>
<text transform="translate(838.8,1413) rotate(-90)">334G</text>
<text transform="translate(876.8,1413) rotate(-90)">338R</text>
<text transform="translate(914.9,1413) rotate(-90)">342L</text>
<text transform="translate(953,1413) rotate(-90)">346E</text>
<text transform="translate(991.1,1413) rotate(-90)">350Y</text>
<text transform="translate(1029.2,1413) rotate(-90)">354F</text>
<text transform="translate(1067.2,1413) rotate(-90)">358A</text>
<text transform="translate(1105.3,1413) rotate(-90)">362K</text>
<text transform="translate(1143.4,1413) rotate(-90)">366V</text>
<text transform="translate(1181.5,1413) rotate(-90)">371E</text>
<text transform="translate(1219.6,1413) rotate(-90)">375G</text>
<text transform="translate(1257.6,1413) rotate(-90)">379I</text>
<text transform="translate(1295.7,1413) rotate(-90)">383E</text>
</g>
<text x="710" y="1549" font-size="36" textLength="135" lengthAdjust="spacingAndGlyphs">residue</text>
</svg>
</body></html>
